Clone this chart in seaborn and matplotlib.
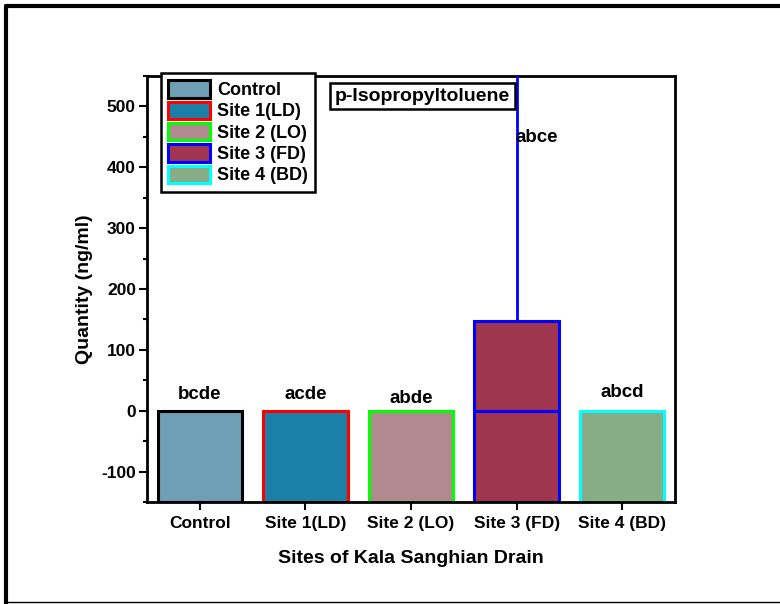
import matplotlib
matplotlib.use("Agg")
import matplotlib.pyplot as plt
from matplotlib.patches import Patch
from matplotlib.lines import Line2D
import seaborn as sns
import pandas as pd

# Data
sites = ["Control", "Site 1(LD)", "Site 2 (LO)", "Site 3 (FD)", "Site 4 (BD)"]
quantity = [0.0, 0.0, 0.0, 147.0, 0.0]
upper_err = [0.0, 0.0, 0.0, 430.0, 0.0]
letters = ["bcde", "acde", "abde", "abce", "abcd"]
letter_y = [20, 20, 12, 442, 23]
letter_dx = [0.0, 0.0, 0.0, 0.19, 0.0]

fills = ["#6f9fb5", "#1a80a8", "#b08a8e", "#a0354f", "#86ad86"]
edges = ["#000000", "#ff0000", "#00ff00", "#0000ff", "#00ffff"]

YMIN, YMAX = -150, 550

sns.set_theme(style="white")
plt.rcParams["font.family"] = ["Liberation Sans", "DejaVu Sans"]
plt.rcParams["font.weight"] = "bold"
plt.rcParams["axes.unicode_minus"] = False
for k in ["text.color", "axes.labelcolor", "xtick.color", "ytick.color"]:
    plt.rcParams[k] = "black"

fig = plt.figure(figsize=(7.8, 6.04), dpi=100)
ax = fig.add_axes([0.1885, 0.1689, 0.8654 - 0.1885, 0.8742 - 0.1689])

df = pd.DataFrame({"site": sites, "quantity": quantity})
sns.barplot(data=df, x="site", y="quantity", hue="site", palette=fills,
            saturation=1, legend=False, width=0.8, linewidth=2.2, ax=ax,
            zorder=2)

# bars rise from the bottom of the value axis
for p, ec in zip(ax.patches, edges):
    h = p.get_height()
    p.set_y(YMIN)
    p.set_height(h - YMIN)
    p.set_edgecolor(ec)
    p.set_linewidth(2.2)

# upper error bar and zero line for Site 3
i3 = 3
ax.errorbar([i3], [quantity[i3]], yerr=[[0], [upper_err[i3]]], fmt="none",
            ecolor=edges[i3], elinewidth=2, capsize=0, zorder=3)
ax.hlines(0, i3 - 0.4, i3 + 0.4, colors=edges[i3], linewidth=2.2, zorder=3)

for i, (t, yv, dx) in enumerate(zip(letters, letter_y, letter_dx)):
    ax.text(i + dx, yv, t, ha="center", va="baseline", fontsize=13.5,
            fontweight="bold", zorder=4)

ax.set_xlim(-0.5, 4.5)
ax.set_ylim(YMIN, YMAX)
ax.set_yticks([-100, 0, 100, 200, 300, 400, 500])
ax.set_yticks(range(-150, 551, 50), minor=True)
ax.tick_params(axis="y", which="major", direction="out", length=6, width=1.5,
               left=True, labelsize=12.5, pad=2)
ax.tick_params(axis="y", which="minor", direction="out", length=3, width=1.5,
               left=True)
ax.tick_params(axis="x", which="major", direction="out", length=6, width=1.5,
               bottom=True, labelsize=12.5, pad=4)
for lab in ax.get_xticklabels() + ax.get_yticklabels():
    lab.set_fontweight("bold")

for s in ["left", "bottom", "top", "right"]:
    ax.spines[s].set_linewidth(2)
    ax.spines[s].set_color("black")

ax.set_xlabel("Sites of Kala Sanghian Drain", fontsize=14, fontweight="bold",
              labelpad=14)
ax.set_ylabel("Quantity (ng/ml)", fontsize=14, fontweight="bold", labelpad=6)

handles = [Patch(facecolor=f, edgecolor=e, linewidth=2.2, label=s)
           for f, e, s in zip(fills, edges, sites)]
leg = ax.legend(handles=handles, loc="upper left",
                bbox_to_anchor=(0.0265, 1.007), frameon=True, fancybox=False,
                edgecolor="black", framealpha=1, borderpad=0.4,
                borderaxespad=0, handlelength=2.3, handleheight=1.1,
                handletextpad=0.4, labelspacing=0.14,
                prop={"weight": "bold", "size": 13})
leg.get_frame().set_linewidth(1.8)
leg.set_zorder(5)

ax.text(0.356, 0.953, "p-Isopropyltoluene", transform=ax.transAxes,
        ha="left", va="center", fontsize=14, fontweight="bold", zorder=5,
        bbox=dict(boxstyle="square,pad=0.25", facecolor="white",
                  edgecolor="black", linewidth=1.8))

# outer frame of the figure
fig.add_artist(Line2D([0.0075, 1.0], [0.9895, 0.9895], color="black",
                      linewidth=3, transform=fig.transFigure))
fig.add_artist(Line2D([0.0075, 0.0075], [0.0, 0.9895], color="black",
                      linewidth=3, transform=fig.transFigure))
fig.add_artist(Line2D([0.0075, 1.0], [0.004, 0.004], color="black",
                      linewidth=1, transform=fig.transFigure))

fig.savefig("out.png", dpi=100)
